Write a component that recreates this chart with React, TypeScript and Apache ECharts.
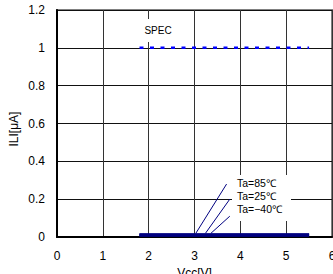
import React, { useEffect, useRef } from "react";
import * as echarts from "echarts";

const vccRange = [1.8, 5.5];
const ilTa85 = [0.01, 0.01];
const ilTa25 = [0.01, 0.01];
const ilTaM40 = [0.01, 0.01];
const specValue = [1.0, 1.0];
const tempLabels = ["Ta=85℃", "Ta=25℃", "Ta=−40℃"];
// leader lines: [x1, y1, x2, y2] in data units
const leaderLines = [
  [3.03, 0.02, 3.7, 0.28],
  [3.24, 0.02, 3.77, 0.2],
  [3.36, 0.02, 3.77, 0.11],
];
const xTicks = [0, 1, 2, 3, 4, 5, 6];
const yTicks = [0, 0.2, 0.4, 0.6, 0.8, 1, 1.2];

const FONT = "Liberation Sans, Arial, sans-serif";

export default function App() {
  const ref = useRef<HTMLDivElement>(null);
  useEffect(() => {
    if (!ref.current) return;
    const chart = echarts.init(ref.current, null, { renderer: "svg" });
    const navy = "#000080";
    const mk = (ys: number[]) => vccRange.map((x, i) => [x, ys[i]]);
    const option: any = {
      animation: false,
      grid: {
        left: 57,
        top: 10,
        right: 1,
        bottom: 37,
        show: true,
        borderColor: "#808080",
        borderWidth: 2,
        backgroundColor: "#fff",
        outerBoundsMode: "none",
        containLabel: false,
      },
      xAxis: {
        type: "value",
        min: xTicks[0],
        max: xTicks[xTicks.length - 1],
        interval: 1,
        name: "Vcc[V]",
        nameLocation: "middle",
        nameGap: 30,
        nameTextStyle: { color: "#000", fontSize: 12, fontFamily: FONT },
        axisLine: { show: true, onZero: false, lineStyle: { color: "#000", width: 2 } },
        axisTick: { show: false },
        axisLabel: { color: "#000", fontSize: 12, fontFamily: FONT, margin: 13 },
        splitLine: { show: true, lineStyle: { color: "#333", width: 1 } },
      },
      yAxis: {
        type: "value",
        min: yTicks[0],
        max: yTicks[yTicks.length - 1],
        interval: 0.2,
        axisLine: { show: true, lineStyle: { color: "#000", width: 2 } },
        axisTick: { show: false },
        axisLabel: {
          color: "#000",
          fontSize: 12,
          fontFamily: FONT,
          margin: 12,
          formatter: (v: number) => String(Number(v.toFixed(1))),
        },
        splitLine: { show: true, lineStyle: { color: "#111", width: 1 } },
      },
      series: [
        {
          type: "line",
          data: mk(specValue),
          symbol: "none",
          lineStyle: { color: "#0000ff", width: 2.5, type: [4, 6.5] },
          z: 3,
        },
        {
          type: "line",
          data: mk(ilTa85),
          symbol: "none",
          lineStyle: { color: navy, width: 3 },
          z: 4,
        },
        {
          type: "line",
          data: mk(ilTa25),
          symbol: "none",
          lineStyle: { color: navy, width: 3 },
          z: 4,
        },
        {
          type: "line",
          data: mk(ilTaM40),
          symbol: "none",
          lineStyle: { color: navy, width: 3 },
          z: 4,
          markLine: {
            silent: true,
            symbol: "none",
            label: { show: false },
            lineStyle: { color: navy, width: 1, type: "solid" },
            data: leaderLines.map((l) => [
              { coord: [l[0], l[1]] },
              { coord: [l[2], l[3]] },
            ]),
          },
        },
      ],
      graphic: [
        {
          type: "rect",
          shape: { x: 138, y: 19, width: 37, height: 23 },
          style: { fill: "#fff" },
          z: 10,
        },
        {
          type: "text",
          x: 158,
          y: 30,
          style: {
            text: "SPEC",
            fill: "#000",
            font: `10px ${FONT}`,
            textAlign: "center",
            textVerticalAlign: "middle",
          },
          z: 11,
        },
        {
          type: "rect",
          shape: { x: 232, y: 175, width: 59, height: 46 },
          style: { fill: "#fff" },
          z: 10,
        },
        ...tempLabels.map((t, i) => ({
          type: "text",
          x: 237,
          y: 183 + i * 13,
          style: {
            text: t,
            fill: "#000",
            font: `10.5px ${FONT}`,
            textAlign: "left",
            textVerticalAlign: "middle",
          },
          z: 11,
        })),
        {
          type: "text",
          x: 14,
          y: 129,
          rotation: Math.PI / 2,
          style: {
            text: "ILI[μA]",
            fill: "#000",
            font: `12px ${FONT}`,
            textAlign: "center",
            textVerticalAlign: "middle",
          },
          z: 11,
        },
      ],
    };
    chart.setOption(option);
    return () => chart.dispose();
  }, []);
  return (
    <div
      ref={ref}
      style={{ position: "fixed", left: 0, top: 0, width: 333, height: 274, background: "#fff" }}
    />
  );
}
